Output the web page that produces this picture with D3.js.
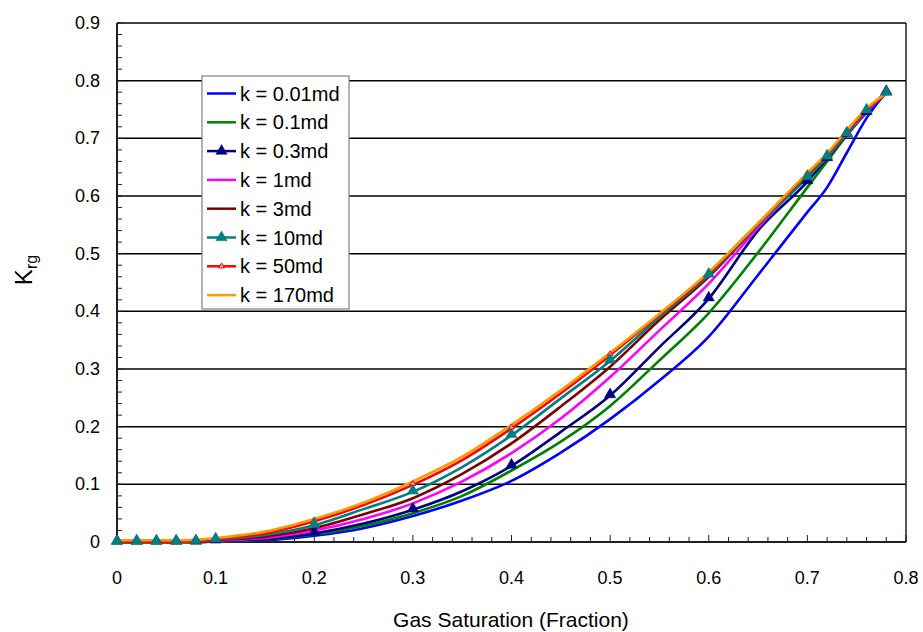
<!DOCTYPE html>
<html>
<head>
<meta charset="UTF-8">
<title>Krg vs gas saturation</title>
<script src="https://d3js.org/d3.v7.min.js"></script>
<style>
    body { margin: 0; background: #fff; }
    svg { font-family: "Liberation Sans", Arial, sans-serif; }
</style>
</head>
<body>
<div id="chart"></div>
<script>
// gas saturation (fraction)
var sat = [0, 0.02, 0.04, 0.06, 0.08, 0.1, 0.15, 0.2, 0.25, 0.3, 0.35, 0.4, 0.45, 0.5, 0.55, 0.6, 0.65, 0.7, 0.72, 0.74, 0.76, 0.78]

// krg per permeability
var k001 = [0, 0, 0, 0, 0, 0.001, 0.003, 0.011, 0.024, 0.045, 0.072, 0.106, 0.155, 0.213, 0.28, 0.356, 0.463, 0.572, 0.615, 0.675, 0.735, 0.78]
var k01 = [0, 0, 0, 0, 0, 0.001, 0.004, 0.013, 0.028, 0.05, 0.08, 0.124, 0.174, 0.236, 0.315, 0.397, 0.502, 0.615, 0.66, 0.705, 0.745, 0.78]
var k03 = [0, 0, 0, 0, 0, 0.002, 0.005, 0.015, 0.032, 0.056, 0.088, 0.132, 0.191, 0.254, 0.338, 0.422, 0.54, 0.625, 0.665, 0.707, 0.745, 0.78]
var k1 = [0, 0, 0, 0, 0, 0.002, 0.007, 0.02, 0.04, 0.067, 0.105, 0.154, 0.214, 0.286, 0.367, 0.448, 0.545, 0.635, 0.668, 0.708, 0.746, 0.78]
var k3 = [0, 0, 0, 0, 0, 0.003, 0.009, 0.024, 0.048, 0.076, 0.118, 0.171, 0.235, 0.304, 0.385, 0.46, 0.55, 0.638, 0.67, 0.71, 0.748, 0.78]
var k10 = [0, 0, 0, 0, 0.001, 0.004, 0.012, 0.029, 0.057, 0.087, 0.13, 0.185, 0.249, 0.314, 0.39, 0.463, 0.55, 0.632, 0.668, 0.708, 0.748, 0.778]
var k50 = [0, 0, 0, 0, 0.002, 0.005, 0.015, 0.036, 0.064, 0.099, 0.142, 0.197, 0.258, 0.324, 0.394, 0.466, 0.552, 0.638, 0.672, 0.712, 0.75, 0.778]
var k170 = [0.003, 0.003, 0.003, 0.003, 0.004, 0.007, 0.018, 0.04, 0.068, 0.105, 0.148, 0.203, 0.263, 0.328, 0.396, 0.468, 0.553, 0.64, 0.674, 0.714, 0.752, 0.778]

var labels = ["k = 0.01md", "k = 0.1md", "k = 0.3md", "k = 1md", "k = 3md", "k = 10md", "k = 50md", "k = 170md"]
var xTicks = [0, 0.1, 0.2, 0.3, 0.4, 0.5, 0.6, 0.7, 0.8]
var yTicks = [0, 0.1, 0.2, 0.3, 0.4, 0.5, 0.6, 0.7, 0.8, 0.9]

var colores = ["#0000ff", "#008000", "#000080", "#ff00ff", "#800000", "#008080", "#ff0000", "#ff9900"]
// which series carry markers: "big" = filled triangle, "small" = little red triangle
var marcas = [null, null, "big", null, null, "big", "small", null]
var series = [k001, k01, k03, k1, k3, k10, k50, k170]

// markers only at these saturations
var conMarca = [0, 0.02, 0.04, 0.06, 0.08, 0.1, 0.2, 0.3, 0.4, 0.5, 0.6, 0.7, 0.72, 0.74, 0.76, 0.78]

var width = 923
var height = 632
var margin = {top: 23, bottom: 90, left: 117, right: 17}

var svg = d3.select("#chart")
    .append("svg")
    .attr("width", width)
    .attr("height", height)

var x = d3.scaleLinear()
    .domain([0, 0.8])
    .range([margin.left, width - margin.right])

var y = d3.scaleLinear()
    .domain([0, 0.9])
    .range([height - margin.bottom, margin.top])

var eje = "#231f20"

// gridlines horizontales
svg.append("g")
    .selectAll("line")
    .data(yTicks.slice(1))
    .enter()
    .append("line")
    .attr("x1", x(0))
    .attr("x2", x(0.8))
    .attr("y1", d => y(d))
    .attr("y2", d => y(d))
    .attr("stroke", "#000")
    .attr("stroke-width", 1.5)

// borde derecho
svg.append("line")
    .attr("x1", x(0.8)).attr("x2", x(0.8))
    .attr("y1", y(0)).attr("y2", y(0.9))
    .attr("stroke", eje)
    .attr("stroke-width", 1.5)

// ticks menores (cada 0.02) hacia dentro
var yMinor = d3.range(0, 0.9001, 0.02)
svg.append("g")
    .selectAll("line")
    .data(yMinor)
    .enter()
    .append("line")
    .attr("x1", x(0))
    .attr("x2", x(0) + 5)
    .attr("y1", d => y(d))
    .attr("y2", d => y(d))
    .attr("stroke", eje)
    .attr("stroke-width", 1)

var xMinor = d3.range(0, 0.8001, 0.02)
svg.append("g")
    .selectAll("line")
    .data(xMinor)
    .enter()
    .append("line")
    .attr("x1", d => x(d))
    .attr("x2", d => x(d))
    .attr("y1", y(0))
    .attr("y2", (d, i) => y(0) - (i % 5 == 0 ? 7 : 5))
    .attr("stroke", eje)
    .attr("stroke-width", 1)

// ejes
svg.append("line")
    .attr("x1", x(0)).attr("x2", x(0))
    .attr("y1", y(0) + 1).attr("y2", y(0.9))
    .attr("stroke", eje)
    .attr("stroke-width", 2)
svg.append("line")
    .attr("x1", x(0)).attr("x2", x(0.8))
    .attr("y1", y(0)).attr("y2", y(0))
    .attr("stroke", eje)
    .attr("stroke-width", 2)

// etiquetas de los ejes
svg.append("g")
    .selectAll("text")
    .data(yTicks)
    .enter()
    .append("text")
    .attr("x", x(0) - 17)
    .attr("y", d => y(d) + 6)
    .attr("text-anchor", "end")
    .style("font-size", "18px")
    .text(d => d3.format(".1~f")(d))

svg.append("g")
    .selectAll("text")
    .data(xTicks)
    .enter()
    .append("text")
    .attr("x", d => x(d))
    .attr("y", 584)
    .attr("text-anchor", "middle")
    .style("font-size", "18px")
    .text(d => d3.format(".1~f")(d))

svg.append("text")
    .attr("x", 511)
    .attr("y", 627)
    .attr("text-anchor", "middle")
    .style("font-size", "21px")
    .text("Gas Saturation (Fraction)")

var tituloY = svg.append("text")
    .attr("transform", "translate(32,270) rotate(-90)")
    .attr("text-anchor", "middle")
    .style("font-size", "24px")
tituloY.append("tspan").text("K")
tituloY.append("tspan")
    .attr("dy", 5)
    .style("font-size", "16px")
    .text("rg")

// curvas
var linea = d3.line()
    .x(d => x(d[0]))
    .y(d => y(d[1]))
    .curve(d3.curveMonotoneX)

var datos = series.map(function (s) {
    return sat.map(function (v, i) { return [v, s[i]] })
})

svg.append("g")
    .selectAll("path")
    .data(datos)
    .enter()
    .append("path")
    .attr("d", linea)
    .attr("fill", "none")
    .attr("stroke", (d, i) => colores[i])
    .attr("stroke-width", 2.6)

var triGrande = d3.symbol(d3.symbolTriangle).size(55)
var triChico = d3.symbol(d3.symbolTriangle).size(14)

function dibujarMarcas(g, i, puntos) {
    g.selectAll("path.m")
        .data(puntos)
        .enter()
        .append("path")
        .attr("class", "m")
        .attr("transform", d => "translate(" + x(d[0]) + "," + (y(d[1]) - 1) + ")")
        .attr("d", marcas[i] == "big" ? triGrande : triChico)
        .attr("fill", marcas[i] == "big" ? colores[i] : "#ffb0b0")
        .attr("stroke", colores[i])
        .attr("stroke-width", marcas[i] == "big" ? 0.5 : 1)
}

var ordenMarcas = [2, 6, 5]
ordenMarcas.forEach(function (i) {
    var pts = datos[i].filter(d => conMarca.some(m => Math.abs(m - d[0]) < 1e-9))
    dibujarMarcas(svg.append("g"), i, pts)
})

// leyenda
var leyenda = svg.append("g")
leyenda.append("rect")
    .attr("x", 202)
    .attr("y", 76)
    .attr("width", 147)
    .attr("height", 233)
    .attr("fill", "#fff")
    .attr("stroke", "#808080")
    .attr("stroke-width", 1.2)

labels.forEach(function (lab, i) {
    var cy = 93.5 + i * 28.8
    var fila = leyenda.append("g")
    fila.append("line")
        .attr("x1", 207).attr("x2", 236)
        .attr("y1", cy).attr("y2", cy)
        .attr("stroke", colores[i])
        .attr("stroke-width", 2.5)
    if (marcas[i]) {
        dibujarMarcas(fila, i, [[x.invert(221.5), y.invert(cy + 1)]])
    }
    fila.append("text")
        .attr("x", 240)
        .attr("y", cy + 7)
        .style("font-size", "20px")
        .text(lab)
})
</script>
</body>
</html>
